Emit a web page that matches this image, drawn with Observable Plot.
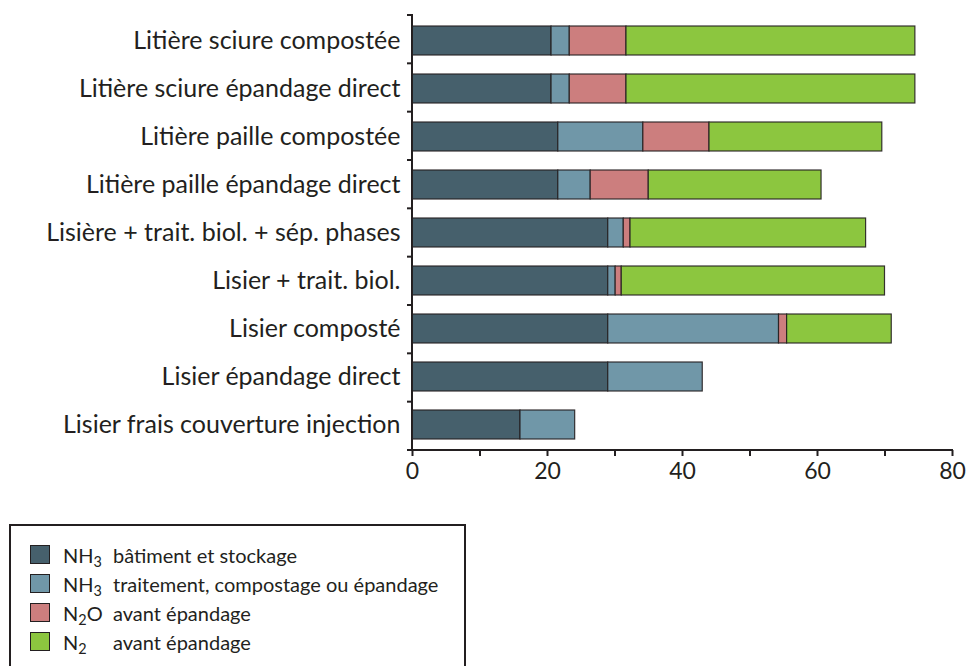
<!DOCTYPE html>
<html>
<head>
<meta charset="utf-8">
<script src="https://cdn.jsdelivr.net/npm/d3@7"></script>
<script src="https://cdn.jsdelivr.net/npm/@observablehq/plot@0.6"></script>
<style>
  html, body { margin: 0; padding: 0; background: #fff; }
  body { width: 966px; height: 666px; overflow: hidden; font-family: Lato, "Open Sans", sans-serif; color: #231f20; }
  #chart svg { display: block; }
  #legend {
    margin-top: 24px;
    margin-left: 9px;
    width: 457px;
    height: 200px;
    border: 2px solid #231f20;
    border-bottom: none;
    box-sizing: border-box;
    padding-top: 14px;
    padding-left: 19px;
    font-size: 20px;
  }
  .row { display: flex; align-items: center; height: 29px; }
  .sw { width: 18px; height: 17px; border: 1px solid #231f20; margin-right: 13px; box-sizing: content-box; }
  .f { width: 50px; white-space: nowrap; }
  sub { font-size: 0.72em; vertical-align: -0.3em; line-height: 0; }
</style>
</head>
<body>
<div id="chart"></div>
<div id="legend"></div>
<script>
// ---- data ----
const categories = [
  "Litière sciure compostée",
  "Litière sciure épandage direct",
  "Litière paille compostée",
  "Litière paille épandage direct",
  "Lisière + trait. biol. + sép. phases",
  "Lisier + trait. biol.",
  "Lisier composté",
  "Lisier épandage direct",
  "Lisier frais couverture injection"
];
const seriesKeys = ["nh3bat", "nh3trait", "n2o", "n2"];
const seriesLabels = [
  ["NH", "3", "", "bâtiment et stockage"],
  ["NH", "3", "", "traitement, compostage ou épandage"],
  ["N", "2", "O", "avant épandage"],
  ["N", "2", "", "avant épandage"]
];
const seriesColors = ["#46606c", "#7097a8", "#cc7e7e", "#8cc63f"];
const nh3Batiment   = [20.6, 20.6, 21.6, 21.6, 29.0, 29.0, 29.0, 29.0, 16.0];
const nh3Traitement = [2.7, 2.7, 12.6, 4.8, 2.3, 1.1, 25.3, 14.0, 8.1];
const n2oAvant      = [8.4, 8.4, 9.8, 8.6, 1.0, 0.9, 1.2, 0, 0];
const n2Avant       = [42.8, 42.8, 25.6, 25.6, 34.9, 39.0, 15.5, 0, 0];
const xTicks = [0, 10, 20, 30, 40, 50, 60, 70, 80];

// ---- table ----
const seriesValues = [nh3Batiment, nh3Traitement, n2oAvant, n2Avant];
const rows = [];
categories.forEach((c, i) => {
  seriesKeys.forEach((k, j) => {
    const v = seriesValues[j][i];
    if (v > 0) rows.push({category: c, series: k, value: v});
  });
});

const ink = "#231f20";

// custom render mark: axis lines + band-boundary ticks
function axesFrame(index, scales, values, dims) {
  const n = categories.length;
  const top = dims.marginTop, bottom = dims.height - dims.marginBottom;
  const left = dims.marginLeft, right = dims.width - dims.marginRight;
  const step = (bottom - top) / n;
  const g = d3.create("svg:g").attr("stroke", ink).attr("fill", "none");
  g.append("line").attr("x1", left).attr("x2", left).attr("y1", top - 1).attr("y2", bottom + 1).attr("stroke-width", 2);
  g.append("line").attr("x1", left - 1).attr("x2", right + 1).attr("y1", bottom).attr("y2", bottom).attr("stroke-width", 2);
  for (let i = 0; i <= n; i++) {
    const y = top + i * step;
    g.append("line").attr("x1", left - 5).attr("x2", left).attr("y1", y).attr("y2", y).attr("stroke-width", 2);
  }
  return g.node();
}

const chart = Plot.plot({
  width: 966,
  height: 500,
  marginTop: 15,
  marginBottom: 50,
  marginLeft: 412,
  marginRight: 14,
  style: {fontFamily: "Lato, 'Open Sans', sans-serif", color: ink, background: "#fff"},
  x: {domain: [0, 80], axis: null},
  y: {domain: categories, paddingInner: 0.4, paddingOuter: 0.2, axis: null},
  color: {domain: seriesKeys, range: seriesColors},
  marks: [
    Plot.barX(rows, {
      y: "category",
      x: "value",
      fill: "series",
      stroke: ink,
      strokeWidth: 1.2,
      strokeOpacity: 0.9
    }),
    Plot.axisY({
      label: null,
      tickSize: 0,
      tickPadding: 12,
      fontSize: 25,
      fill: ink
    }),
    Plot.axisX({
      label: null,
      ticks: xTicks,
      tickSize: 6,
      tickPadding: 6,
      strokeWidth: 2,
      stroke: ink,
      fontSize: 23,
      fill: ink,
      tickFormat: d => (d % 20 === 0 ? String(d) : "")
    }),
    axesFrame
  ]
});
document.getElementById("chart").append(chart);

// ---- legend ----
const legend = document.getElementById("legend");
seriesKeys.forEach((k, j) => {
  const [a, sub, b, desc] = seriesLabels[j];
  const row = document.createElement("div");
  row.className = "row";
  row.innerHTML = `<span class="sw" style="background:${seriesColors[j]}"></span>` +
    `<span class="f">${a}<sub>${sub}</sub>${b}</span><span>${desc}</span>`;
  legend.append(row);
});
</script>
</body>
</html>
